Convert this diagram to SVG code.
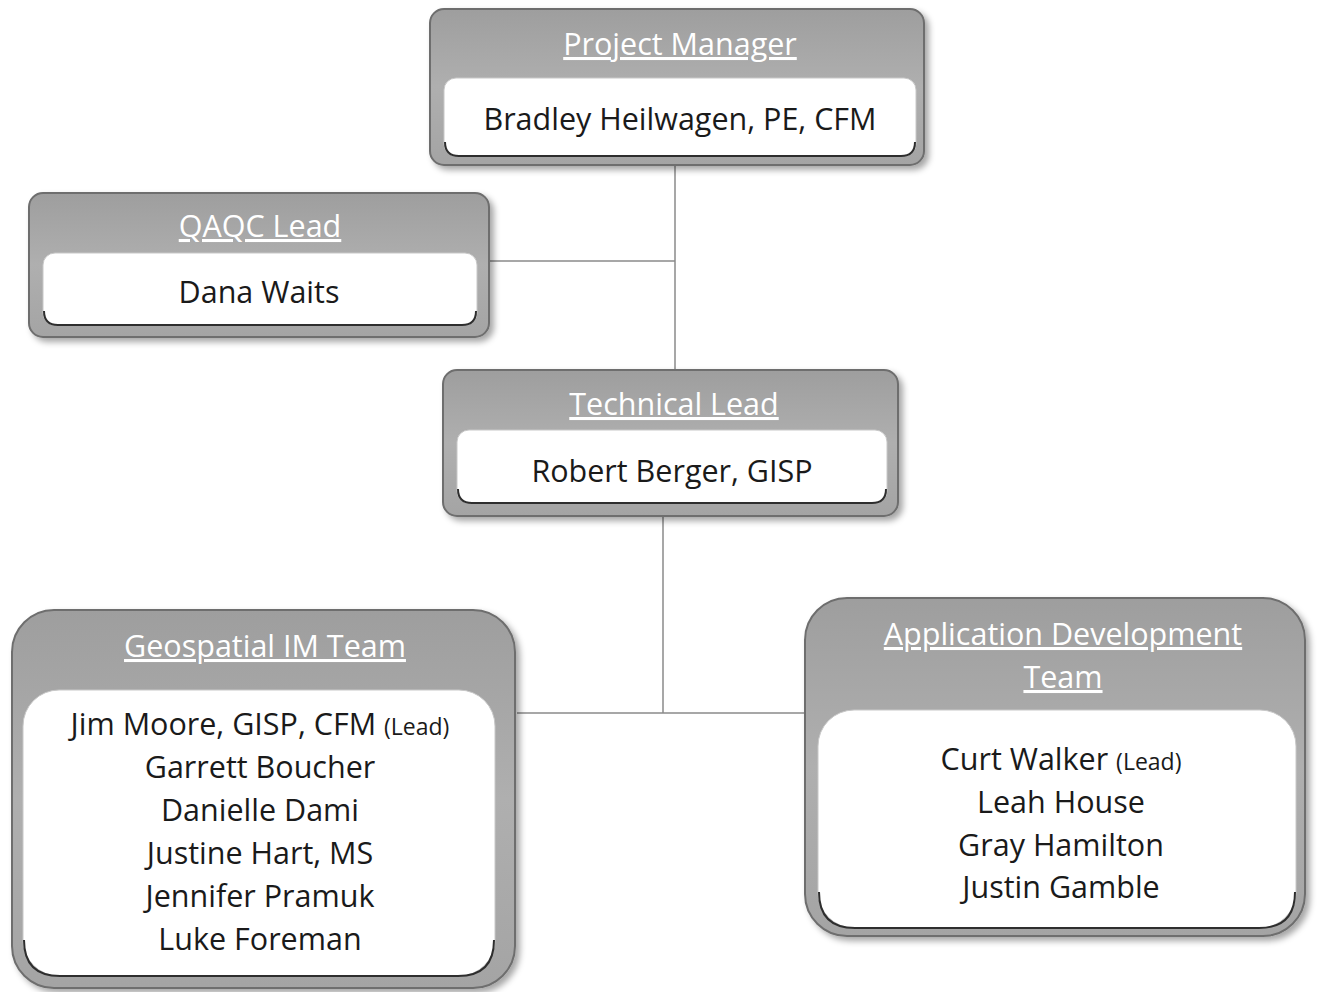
<svg xmlns="http://www.w3.org/2000/svg" width="1320" height="992" viewBox="0 0 1320 992">
<defs>
<filter id="sh" x="-10%" y="-10%" width="125%" height="125%">
<feGaussianBlur in="SourceAlpha" stdDeviation="3"/>
<feOffset dx="4" dy="4" result="b"/>
<feFlood flood-color="#000" flood-opacity="0.35"/>
<feComposite in2="b" operator="in"/>
<feMerge><feMergeNode/><feMergeNode in="SourceGraphic"/></feMerge>
</filter>
<linearGradient id="g" x1="0" y1="0" x2="0" y2="1">
<stop offset="0" stop-color="#9e9e9e"/>
<stop offset="0.5" stop-color="#afafaf"/>
<stop offset="1" stop-color="#a4a4a4"/>
</linearGradient>
</defs>
<style>
.outer{fill:url(#g);stroke:#6e6e6e;stroke-width:2;filter:url(#sh)}
.inner{fill:#fff;stroke:#c8c8c8;stroke-width:1}
.base{fill:none;stroke:#2e2e2e;stroke-width:2}
.title{font-family:"Open Sans","Noto Sans",sans-serif;font-size:30.5px;fill:#fff;text-anchor:middle;text-decoration:underline}
.name{font-family:"Open Sans","Noto Sans",sans-serif;font-size:30.5px;fill:#1a1a1a;text-anchor:middle}
.small{font-size:23px}
.conn{fill:none;stroke:#8a8a8a;stroke-width:1.5}
</style>
<rect width="1320" height="992" fill="#fff"/>
<g id="connectors">
<line class="conn" x1="675" y1="166" x2="675" y2="370"/>
<line class="conn" x1="490" y1="261" x2="675" y2="261"/>
<line class="conn" x1="663" y1="517" x2="663" y2="713"/>
<line class="conn" x1="517" y1="713" x2="805" y2="713"/>
</g>
<g id="project-manager">
<rect class="outer" x="430" y="9" width="494" height="156" rx="14"/>
<rect class="inner" x="444" y="78" width="472" height="78" rx="12"/>
<path class="base" d="M445,142 q0,14 14,14 h442 q14,0 14,-14"/>
<text class="title" x="680" y="55">Project Manager</text>
<text class="name" x="680" y="130">Bradley Heilwagen, PE, CFM</text>
</g>
<g id="qaqc-lead">
<rect class="outer" x="29" y="193" width="460" height="144" rx="14"/>
<rect class="inner" x="43" y="253" width="434" height="72" rx="12"/>
<path class="base" d="M44,311 q0,14 14,14 h404 q14,0 14,-14"/>
<text class="title" x="260" y="237">QAQC Lead</text>
<text class="name" x="259" y="303">Dana Waits</text>
</g>
<g id="technical-lead">
<rect class="outer" x="443" y="370" width="455" height="146" rx="14"/>
<rect class="inner" x="457" y="430" width="430" height="73" rx="12"/>
<path class="base" d="M458,489 q0,14 14,14 h400 q14,0 14,-14"/>
<text class="title" x="674" y="415">Technical Lead</text>
<text class="name" x="672" y="482">Robert Berger, GISP</text>
</g>
<g id="geospatial-im-team">
<rect class="outer" x="12" y="610" width="503" height="378" rx="42"/>
<rect class="inner" x="23" y="690" width="472" height="286" rx="36"/>
<path class="base" d="M24,940 q0,36 36,36 h398 q36,0 36,-36"/>
<text class="title" x="265" y="657">Geospatial IM Team</text>
<text class="name" x="260" y="735">Jim Moore, GISP, CFM <tspan class="small">(Lead)</tspan></text>
<text class="name" x="260" y="778">Garrett Boucher</text>
<text class="name" x="260" y="821">Danielle Dami</text>
<text class="name" x="260" y="864">Justine Hart, MS</text>
<text class="name" x="260" y="907">Jennifer Pramuk</text>
<text class="name" x="260" y="950">Luke Foreman</text>
</g>
<g id="application-development-team">
<rect class="outer" x="805" y="598" width="500" height="338" rx="42"/>
<rect class="inner" x="818" y="710" width="478" height="218" rx="36"/>
<path class="base" d="M819,892 q0,36 36,36 h404 q36,0 36,-36"/>
<text class="title" x="1063" y="645">Application Development</text>
<text class="title" x="1063" y="688">Team</text>
<text class="name" x="1061" y="770">Curt Walker <tspan class="small">(Lead)</tspan></text>
<text class="name" x="1061" y="813">Leah House</text>
<text class="name" x="1061" y="856">Gray Hamilton</text>
<text class="name" x="1061" y="898">Justin Gamble</text>
</g>
</svg>
